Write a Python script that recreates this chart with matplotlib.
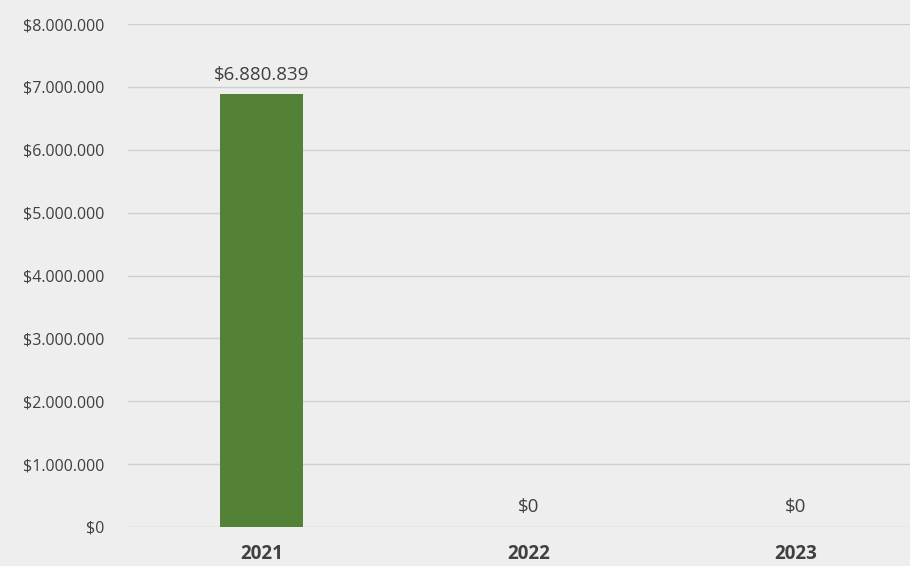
import matplotlib.pyplot as plt
from matplotlib.ticker import FuncFormatter

years = ['2021', '2022', '2023']
values = [6880839, 0, 0]
yticks = [0, 1000000, 2000000, 3000000, 4000000, 5000000, 6000000, 7000000, 8000000]


def money(v):
    return '$' + format(int(v), ',').replace(',', '.')


plt.rcParams['font.family'] = ['Open Sans', 'DejaVu Sans']

fig = plt.figure(figsize=(9.1, 5.66), dpi=100, facecolor='#eeeeee')
ax = fig.add_axes([128 / 910, 39 / 566, 782 / 910, 503 / 566])
ax.set_facecolor('#eeeeee')

x = range(len(years))
ax.bar(x, values, width=0.31, color='#538135', zorder=3)

for i, v in enumerate(values):
    ax.text(i, v + 170000, money(v), ha='center', va='bottom',
            fontsize=13.5, color='#404040', zorder=4)

ax.set_xlim(-0.5, 2.43)
ax.set_ylim(0, 8000000)
ax.set_yticks(yticks)
ax.yaxis.set_major_formatter(FuncFormatter(lambda v, p: money(v)))
ax.set_xticks(list(x))
ax.set_xticklabels(years, fontweight='bold', fontsize=13.5)
ax.tick_params(axis='both', length=0, labelcolor='#404040')
ax.tick_params(axis='y', pad=17, labelsize=11.5)
ax.tick_params(axis='x', pad=12)
ax.grid(axis='y', color='#cfcfcf', linewidth=1, zorder=0)
for s in ax.spines.values():
    s.set_visible(False)

fig.savefig('out.png', dpi=100, facecolor=fig.get_facecolor())
